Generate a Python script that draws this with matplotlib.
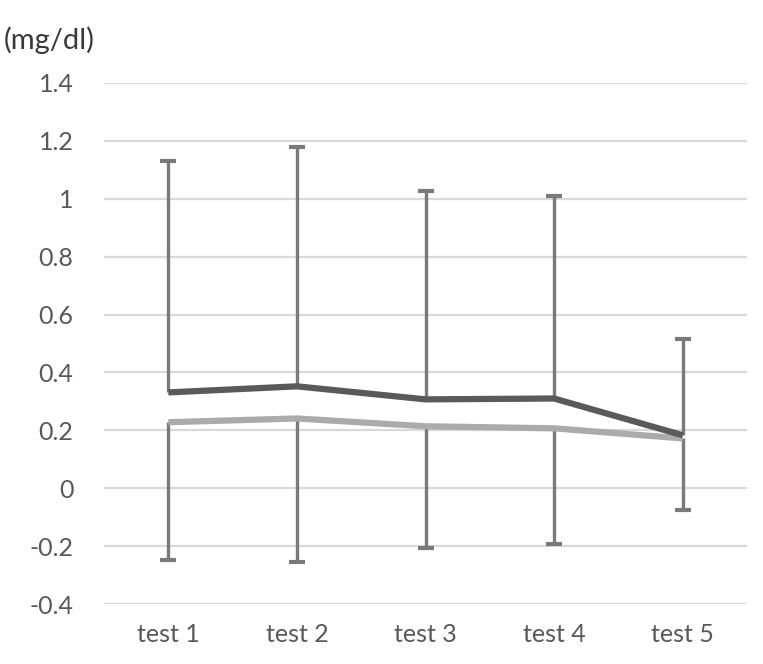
import matplotlib
matplotlib.use("Agg")
import matplotlib.pyplot as plt
import numpy as np

categories = ["test 1", "test 2", "test 3", "test 4", "test 5"]
dark_values = [0.331, 0.352, 0.307, 0.310, 0.183]
light_values = [0.228, 0.241, 0.214, 0.207, 0.172]
upper_ends = [1.131, 1.178, 1.028, 1.010, 0.514]
lower_ends = [-0.248, -0.254, -0.208, -0.191, -0.076]
y_ticks = [-0.4, -0.2, 0, 0.2, 0.4, 0.6, 0.8, 1.0, 1.2, 1.4]
y_tick_labels = ["-0.4", "-0.2", "0", "0.2", "0.4", "0.6", "0.8", "1", "1.2", "1.4"]

plt.rcParams['font.family'] = ['Lato', 'DejaVu Sans']

W, H = 763, 664
fig = plt.figure(figsize=(W / 100, H / 100), dpi=100)
ax = fig.add_axes([104 / W, 1 - 604 / H, (747 - 104) / W, (604 - 83) / H])

x = np.arange(len(categories))
err_color = "#7a7a7a"

# error bars: upper from dark series, lower from light series
ax.vlines(x, dark_values, upper_ends, color=err_color, lw=2.4, zorder=2)
ax.vlines(x, lower_ends, light_values, color=err_color, lw=2.4, zorder=2)
ax.plot(x, upper_ends, ls="none", marker="_", markersize=12, mew=3, color=err_color, zorder=2)
ax.plot(x, lower_ends, ls="none", marker="_", markersize=12, mew=3, color=err_color, zorder=2)

ax.plot(x, light_values, color="#ababab", lw=4.5, zorder=3, solid_capstyle="butt")
ax.plot(x, dark_values, color="#5a5a5a", lw=4.5, zorder=4, solid_capstyle="butt")

ax.set_xlim(-0.5, len(categories) - 0.5)
ax.set_ylim(-0.4, 1.4)
ax.set_yticks(y_ticks)
ax.set_yticklabels(y_tick_labels)
ax.set_xticks(x)
ax.set_xticklabels(categories)
ax.grid(axis="y", color="#d9d9d9", lw=1.6, zorder=0)
ax.set_axisbelow(True)
for s in ax.spines.values():
    s.set_visible(False)
ax.tick_params(axis="both", length=0, labelsize=18, labelcolor="#595959")
ax.tick_params(axis="y", pad=22)
ax.tick_params(axis="x", pad=14)

fig.text(4 / W, 1 - 40 / H, "(mg/dl)", fontsize=21, color="#3a3a3a", va="center", ha="left")

fig.savefig("out.png", dpi=100)
